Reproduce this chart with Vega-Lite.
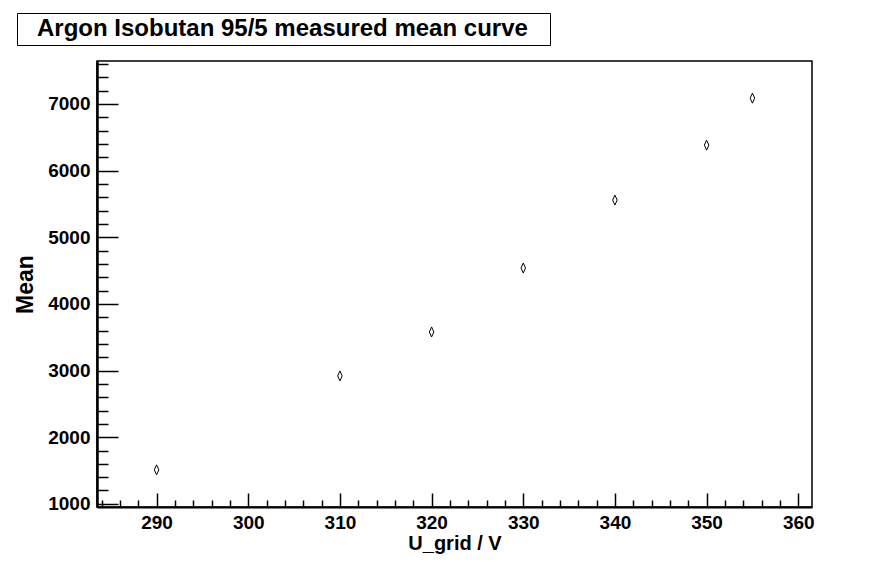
{
  "$schema": "https://vega.github.io/schema/vega-lite/v6.json",
  "autosize": {"type": "none"},
  "width": 715,
  "height": 446,
  "padding": {"left": 97, "top": 61, "right": 82, "bottom": 56},
  "background": "white",
  "config": {
    "view": {"stroke": "black", "strokeWidth": 1.5},
    "axis": {"labelFont": "Liberation Sans", "titleFont": "Liberation Sans", "labelFontWeight": "bold", "titleFontWeight": "bold", "labelColor": "black", "titleColor": "black", "tickColor": "black", "domainColor": "black", "grid": false, "tickWidth": 1.5}
  },
  "data": {"values": [
    {"U": 290, "Mean": 1510},
    {"U": 310, "Mean": 2919},
    {"U": 320, "Mean": 3579},
    {"U": 330, "Mean": 4538},
    {"U": 340, "Mean": 5558},
    {"U": 350, "Mean": 6382},
    {"U": 355, "Mean": 7087}
  ]},
  "layer": [
    {
      "mark": {"type": "point", "shape": "M0,-1L0.45,0L0,1L-0.45,0Z", "size": 100, "filled": false, "stroke": "black", "strokeWidth": 1, "opacity": 1},
      "encoding": {
        "x": {"field": "U", "type": "quantitative", "scale": {"domain": [283.5, 361.5], "nice": false, "zero": false},
          "axis": {"orient": "bottom", "values": [290, 300, 310, 320, 330, 340, 350, 360], "tickSize": -14, "labelPadding": 20, "labelFontSize": 19, "domainWidth": 2, "title": "U_grid / V", "titleFontSize": 20, "titlePadding": 1}},
        "y": {"field": "Mean", "type": "quantitative", "scale": {"domain": [952.3, 7644.7], "nice": false, "zero": false},
          "axis": {"orient": "left", "values": [1000, 2000, 3000, 4000, 5000, 6000, 7000], "format": "d", "tickSize": -21, "labelPadding": 28, "labelFontSize": 19, "domainWidth": 2.5, "title": "Mean", "titleFontSize": 23, "titlePadding": 10}}
      }
    },
    {
      "mark": {"type": "point", "opacity": 0},
      "encoding": {
        "x": {"field": "U", "type": "quantitative",
          "axis": {"orient": "bottom", "values": [284, 286, 288, 292, 294, 296, 298, 302, 304, 306, 308, 312, 314, 316, 318, 322, 324, 326, 328, 332, 334, 336, 338, 342, 344, 346, 348, 352, 354, 356, 358], "tickSize": -7, "labels": false, "domain": false, "title": null}},
        "y": {"field": "Mean", "type": "quantitative",
          "axis": {"orient": "left", "values": [1200, 1400, 1600, 1800, 2200, 2400, 2600, 2800, 3200, 3400, 3600, 3800, 4200, 4400, 4600, 4800, 5200, 5400, 5600, 5800, 6200, 6400, 6600, 6800, 7200, 7400, 7600], "tickSize": -11, "labels": false, "domain": false, "title": null}},
        "color": {"datum": "Argon Isobutan 95/5 measured mean curve\u2800", "type": "nominal",
          "legend": {"orient": "none", "legendX": -80, "legendY": -48, "title": null, "symbolSize": 64, "symbolOpacity": 0, "symbolStrokeWidth": 0, "labelOffset": -8, "labelFont": "Liberation Sans", "labelFontWeight": "bold", "labelFontSize": 24, "labelColor": "black", "labelLimit": 0, "padding": 4, "strokeColor": "black", "fillColor": "white"}}
      }
    }
  ],
  "resolve": {"axis": {"x": "independent", "y": "independent"}}
}
